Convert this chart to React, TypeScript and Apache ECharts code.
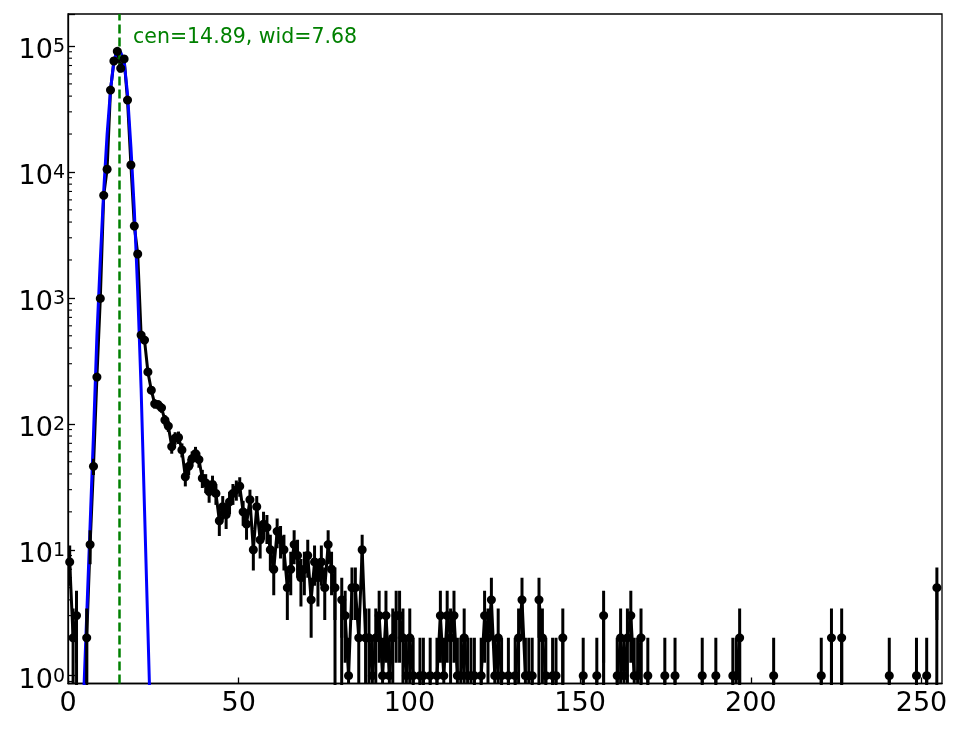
import { useEffect, useRef } from "react";
import * as echarts from "echarts";

/** Counts per bin (256 bins spanning 0..255) */
const COUNTS = [
  8, 2, 3, 0, 0, 2, 11, 46, 235, 990,
  6520, 10500, 44700, 76000, 90800, 66500, 78900, 37200, 11350, 3720,
  2230, 507, 462, 258, 185, 144, 142, 134, 107, 96,
  66, 77, 78, 62, 38, 46, 53, 58, 52, 37,
  34, 29, 33, 28, 17, 22, 19, 24, 28, 30,
  32, 20, 16, 25, 10, 22, 12, 16, 15, 10,
  7, 14, 12, 10, 5, 7, 11, 9, 6, 7,
  9, 4, 8, 6, 8, 5, 11, 7, 5, 0,
  4, 3, 1, 5, 5, 2, 10, 2, 2, 1,
  2, 3, 1, 3, 1, 2, 3, 3, 2, 1,
  2, 1, 0, 1, 1, 0, 1, 0, 1, 3,
  1, 3, 2, 3, 1, 1, 2, 1, 1, 1,
  0, 1, 3, 2, 4, 1, 2, 1, 0, 1,
  0, 1, 2, 4, 1, 1, 1, 0, 4, 2,
  1, 0, 1, 1, 0, 2, 0, 0, 0, 0,
  0, 1, 0, 0, 0, 1, 0, 3, 0, 0,
  0, 1, 2, 1, 2, 3, 1, 1, 2, 0,
  1, 0, 0, 0, 0, 1, 0, 0, 1, 0,
  0, 0, 0, 0, 0, 0, 1, 0, 0, 0,
  1, 0, 0, 0, 0, 1, 1, 2, 0, 0,
  0, 0, 0, 0, 0, 0, 0, 1, 0, 0,
  0, 0, 0, 0, 0, 0, 0, 0, 0, 0,
  0, 1, 0, 0, 2, 0, 0, 2, 0, 0,
  0, 0, 0, 0, 0, 0, 0, 0, 0, 0,
  0, 1, 0, 0, 0, 0, 0, 0, 0, 1,
  0, 0, 1, 0, 0, 5,
];
const BIN_RANGE = [0, 255];

/** Fitted curve, one value per bin starting at FIT_FIRST_BIN */
const FIT_FIRST_BIN = 3;
const FIT_VALUES = [
  0.09, 0.58, 3.0, 15.8, 83, 500, 2000, 7080, 20000, 44700, 75900, 93300,
  89100, 75900, 41700, 15800, 5000, 1120, 190, 21, 2.3, 0.25, 0.02,
];
const CEN = 14.89;
const WID = 7.68;

const X_TICKS = [0, 50, 100, 150, 200, 250];
const Y_RANGE = [0.867, 179500];
const MINOR_DECADES = [-1, 0, 1, 2, 3, 4, 5];
const MINOR_MULTS = [2, 3, 4, 5, 6, 7, 8, 9];

const FLOOR = 1e-30; // stand-in for zero counts on the log axis
const FONT = "DejaVu Sans";

export default function App() {
  const chartRef = useRef<HTMLDivElement>(null);

  useEffect(() => {
    if (!chartRef.current) return;
    const chart = echarts.init(chartRef.current, undefined, { renderer: "svg" });

    const binWidth = (BIN_RANGE[1] - BIN_RANGE[0]) / COUNTS.length;
    const center = (k: number) => BIN_RANGE[0] + (k + 0.5) * binWidth;

    const lineData = COUNTS.map((c, k) => [center(k), c > 0 ? c : FLOOR]);
    const pointData = COUNTS.map((c, k) => [center(k), c]).filter((d) => d[1] > 0);
    const errData = pointData.map(([x, c]) => [
      x,
      Math.max(c - Math.sqrt(c), FLOOR),
      c + Math.sqrt(c),
    ]);
    const fitData = FIT_VALUES.map((v, i) => [center(FIT_FIRST_BIN + i), v]);

    const minorTicks: number[][] = [];
    MINOR_DECADES.forEach((d) => {
      MINOR_MULTS.forEach((m) => {
        const v = m * Math.pow(10, d);
        if (v > Y_RANGE[0] && v < Y_RANGE[1]) minorTicks.push([0, v]);
      });
    });

    const option = {
      animation: false,
      textStyle: { fontFamily: FONT },
      grid: {
        left: 68,
        right: 22,
        top: 14,
        bottom: 45.5,
        show: true,
        borderColor: "#000",
        borderWidth: 1.3,
      },
      xAxis: {
        type: "value",
        min: 0,
        max: 256,
        interval: 50,
        axisLine: { show: true, onZero: false, lineStyle: { color: "#000", width: 1.3 } },
        axisTick: { show: true, inside: true, length: 6, lineStyle: { color: "#000", width: 1.3 } },
        axisLabel: {
          fontSize: 27,
          color: "#000",
          fontFamily: FONT,
          margin: 4,
          showMaxLabel: false,
          formatter: (v: number) => (X_TICKS.includes(v) ? String(v) : ""),
        },
        splitLine: { show: false },
      },
      yAxis: {
        type: "log",
        logBase: 10,
        min: Y_RANGE[0],
        max: Y_RANGE[1],
        axisLine: { show: true, onZero: false, lineStyle: { color: "#000", width: 1.3 } },
        axisTick: { show: true, inside: true, length: 7, lineStyle: { color: "#000", width: 1.3 } },
        axisLabel: {
          margin: 3,
          padding: [6, 0, 0, 0],
          formatter: (v: number) => {
            const e = Math.log10(v);
            const r = Math.round(e);
            if (Math.abs(e - r) > 1e-6) return "";
            return `{b|10}{s|${r}}`;
          },
          rich: {
            b: { fontSize: 27, lineHeight: 27, color: "#000", fontFamily: FONT, verticalAlign: "bottom" },
            s: { fontSize: 19, lineHeight: 19, color: "#000", fontFamily: FONT, verticalAlign: "top" },
          },
        },
        splitLine: { show: false },
      },
      graphic: [
        {
          type: "text",
          left: 133,
          top: 25,
          style: {
            text: `cen=${CEN.toFixed(2)}, wid=${WID.toFixed(2)}`,
            fill: "#008000",
            font: `20.5px "${FONT}"`,
          },
        },
      ],
      series: [
        {
          name: "data line",
          type: "line",
          data: lineData,
          symbol: "none",
          lineStyle: { color: "#000", width: 3 },
          clip: true,
          z: 2,
        },
        {
          name: "fit",
          type: "line",
          data: fitData,
          symbol: "none",
          lineStyle: { color: "#0000ff", width: 3 },
          clip: true,
          z: 3,
          markLine: {
            silent: true,
            symbol: ["none", "none"],
            label: { show: false },
            lineStyle: { color: "#008000", width: 2.5, type: [9, 4] },
            data: [{ xAxis: CEN }],
          },
        },
        {
          name: "errors",
          type: "custom",
          data: errData,
          encode: { x: 0, y: [1, 2] },
          clip: true,
          z: 4,
          renderItem: (_params: any, api: any) => {
            const x = api.value(0);
            const p1 = api.coord([x, api.value(1)]);
            const p2 = api.coord([x, api.value(2)]);
            return {
              type: "line",
              shape: { x1: p1[0], y1: p1[1], x2: p2[0], y2: p2[1] },
              style: { stroke: "#000", lineWidth: 3 },
            };
          },
        },
        {
          name: "points",
          type: "scatter",
          data: pointData,
          symbol: "circle",
          symbolSize: 9,
          itemStyle: { color: "#000", opacity: 1 },
          z: 5,
        },
        {
          name: "minor ticks",
          type: "custom",
          data: minorTicks,
          encode: { x: 0, y: 1 },
          silent: true,
          z: 6,
          renderItem: (_params: any, api: any) => {
            const p = api.coord([0, api.value(1)]);
            return {
              type: "line",
              shape: { x1: p[0], y1: p[1], x2: p[0] + 4, y2: p[1] },
              style: { stroke: "#000", lineWidth: 1.1 },
            };
          },
        },
      ],
    };

    chart.setOption(option);
    return () => chart.dispose();
  }, []);

  return (
    <div
      ref={chartRef}
      style={{ position: "fixed", left: 0, top: 0, width: 964, height: 729 }}
    />
  );
}
